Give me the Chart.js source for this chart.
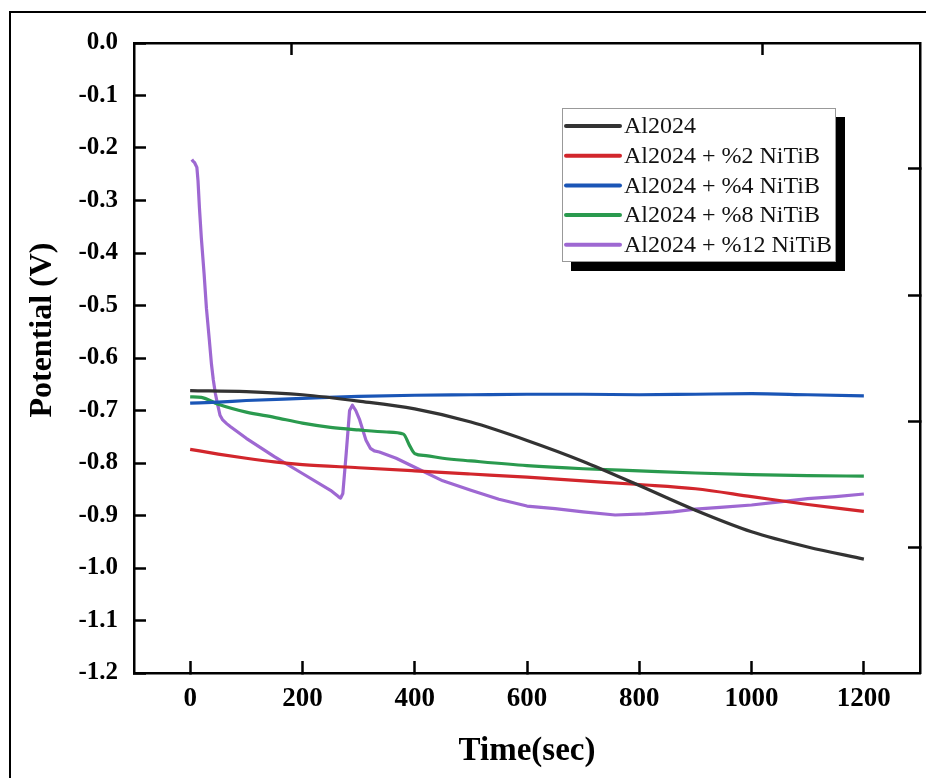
<!DOCTYPE html>
<html>
<head>
<meta charset="utf-8">
<script src="https://cdn.jsdelivr.net/npm/chart.js@4.4.1/dist/chart.umd.min.js"></script>
<style>
  html, body { margin: 0; padding: 0; background: #fff; overflow: hidden; width: 926px; height: 778px; }
  #frame { position: absolute; left: 9px; top: 11px; width: 1000px; height: 1000px; border: 2.5px solid #000; }
  #c { position: absolute; left: 0; top: 0; }
</style>
</head>
<body>
<div id="frame"></div>
<canvas id="c" width="926" height="778"></canvas>
<script>
// ---- Data ----
const seriesNames = ['Al2024', 'Al2024 + %2 NiTiB', 'Al2024 + %4 NiTiB', 'Al2024 + %8 NiTiB', 'Al2024 + %12 NiTiB'];

const tAl = [0, 100, 200, 300, 400, 500, 600, 700, 800, 900, 1000, 1100, 1200];
const vAl = [-0.662, -0.664, -0.670, -0.682, -0.697, -0.722, -0.757, -0.797, -0.843, -0.890, -0.931, -0.960, -0.983];

const tNi2 = [0, 50, 100, 150, 200, 300, 400, 500, 600, 700, 800, 900, 1000, 1100, 1200];
const vNi2 = [-0.774, -0.783, -0.791, -0.798, -0.803, -0.809, -0.815, -0.821, -0.827, -0.834, -0.841, -0.849, -0.864, -0.879, -0.892];

const tNi4 = [0, 50, 100, 200, 300, 400, 500, 600, 700, 800, 900, 1000, 1100, 1200];
const vNi4 = [-0.686, -0.684, -0.681, -0.677, -0.673, -0.671, -0.670, -0.669, -0.669, -0.670, -0.669, -0.668, -0.670, -0.672];

const tNi8 = [0, 20, 50, 100, 150, 200, 250, 300, 350, 380, 390, 400, 420, 450, 500, 600, 700, 800, 900, 1000, 1100, 1200];
const vNi8 = [-0.674, -0.675, -0.688, -0.703, -0.713, -0.724, -0.732, -0.737, -0.741, -0.745, -0.765, -0.782, -0.786, -0.791, -0.796, -0.805, -0.811, -0.815, -0.819, -0.822, -0.824, -0.825];

const tNi12 = [3, 5, 8, 12, 14, 16.5, 20, 24.8, 29, 34.2, 38, 41.3, 45, 48.4, 53.2, 58, 65, 72, 100, 150, 200, 250, 264, 268, 272, 278, 284, 289, 295, 302, 313, 321, 328, 337, 367, 400, 450, 500, 550, 600, 650, 700, 757, 810, 860, 900, 950, 1000, 1050, 1100, 1150, 1200];
const vNi12 = [-0.222, -0.225, -0.228, -0.237, -0.262, -0.313, -0.372, -0.439, -0.505, -0.566, -0.612, -0.642, -0.668, -0.686, -0.709, -0.718, -0.725, -0.731, -0.753, -0.788, -0.820, -0.852, -0.864, -0.867, -0.858, -0.781, -0.700, -0.690, -0.700, -0.718, -0.756, -0.772, -0.777, -0.779, -0.791, -0.808, -0.834, -0.852, -0.869, -0.882, -0.887, -0.893, -0.899, -0.897, -0.893, -0.888, -0.884, -0.880, -0.874, -0.868, -0.864, -0.859];

const xTickValues = [0, 200, 400, 600, 800, 1000, 1200];
const yTickValues = [0, -0.1, -0.2, -0.3, -0.4, -0.5, -0.6, -0.7, -0.8, -0.9, -1.0, -1.1, -1.2];
const xTitle = 'Time(sec)';
const yTitle = 'Potential (V)';

const colors = ['#333333', '#d2262c', '#1a55b6', '#2a9a4e', '#9e68d2'];

// ---- Build chart ----
const tArrays = [tAl, tNi2, tNi4, tNi8, tNi12];
const vArrays = [vAl, vNi2, vNi4, vNi8, vNi12];
const datasets = seriesNames.map((name, i) => ({
  label: name,
  data: tArrays[i].map((t, j) => ({ x: t, y: vArrays[i][j] })),
  borderColor: colors[i],
  backgroundColor: colors[i],
  borderWidth: 3.2,
  pointRadius: 0,
  cubicInterpolationMode: i === 4 ? 'default' : 'monotone',
  tension: i === 4 ? 0 : 0.4,
  borderJoinStyle: 'round',
  fill: false
}));

const serif = '"Liberation Serif", "Times New Roman", serif';
const axisCommon = {
  border: { display: true, color: '#000', width: 2.5 },
  grid: { drawOnChartArea: false, drawTicks: true, tickLength: -12, tickWidth: 2.5, tickColor: '#000' }
};

const legendPlugin = {
  id: 'boxLegend',
  afterDatasetsDraw(chart) {
    const ctx = chart.ctx;
    ctx.save();
    const bx = 562, by = 108, bw = 274, bh = 154;
    ctx.fillStyle = '#000';
    ctx.fillRect(bx + 9, by + 9, bw, bh);
    ctx.fillStyle = '#fff';
    ctx.fillRect(bx, by, bw, bh);
    ctx.strokeStyle = '#999';
    ctx.lineWidth = 1;
    ctx.strokeRect(bx + 0.5, by + 0.5, bw - 1, bh - 1);
    ctx.font = '24px ' + serif;
    ctx.textBaseline = 'middle';
    ctx.textAlign = 'left';
    chart.data.datasets.forEach((ds, i) => {
      const y = 126 + i * 29.7;
      ctx.strokeStyle = ds.borderColor;
      ctx.lineWidth = 4;
      ctx.lineCap = 'round';
      ctx.beginPath();
      ctx.moveTo(566, y);
      ctx.lineTo(620, y);
      ctx.stroke();
      ctx.fillStyle = '#111';
      ctx.fillText(ds.label, 624, y + 1);
    });
    // y-axis title
    ctx.save();
    ctx.translate(43, 330);
    ctx.rotate(-Math.PI / 2);
    ctx.font = 'bold 32px ' + serif;
    ctx.fillStyle = '#000';
    ctx.textAlign = 'center';
    ctx.textBaseline = 'middle';
    ctx.fillText(yTitle, 0, 0);
    ctx.restore();
    ctx.restore();
  }
};

new Chart(document.getElementById('c'), {
  type: 'line',
  data: { datasets },
  plugins: [legendPlugin],
  options: {
    responsive: false,
    animation: false,
    devicePixelRatio: 1,
    layout: { padding: 0 },
    plugins: { legend: { display: false }, tooltip: { enabled: false } },
    scales: {
      x: {
        type: 'linear', position: 'bottom', min: -100, max: 1300,
        ...axisCommon,
        afterBuildTicks: s => { s.ticks = xTickValues.map(v => ({ value: v })); },
        afterFit: s => { s.height = 105; },
        ticks: { color: '#000', padding: 22, maxRotation: 0, font: { family: serif, size: 27, weight: 'bold' }, callback: v => String(v) },
        title: { display: true, text: xTitle, color: '#000', padding: { top: 0, bottom: 7 }, font: { family: serif, size: 33, weight: 'bold' } }
      },
      y: {
        type: 'linear', position: 'left', min: -1.2, max: 0,
        ...axisCommon,
        afterBuildTicks: s => { s.ticks = yTickValues.map(v => ({ value: v })); },
        afterFit: s => { s.width = 134; },
        ticks: { color: '#000', padding: 28, font: { family: serif, size: 25, weight: 'bold' }, callback: v => Number(v).toFixed(1) },
        title: { display: false }
      },
      x2: {
        type: 'linear', position: 'top', min: 0, max: 1,
        ...axisCommon,
        afterBuildTicks: s => { s.ticks = [0.2, 0.8].map(v => ({ value: v })); },
        afterFit: s => { s.height = 42; },
        ticks: { display: false }
      },
      y2: {
        type: 'linear', position: 'right', min: 0, max: 1,
        ...axisCommon,
        afterBuildTicks: s => { s.ticks = [0.2, 0.4, 0.6, 0.8].map(v => ({ value: v })); },
        afterFit: s => { s.width = 6; },
        ticks: { display: false }
      }
    }
  }
});
</script>
</body>
</html>
